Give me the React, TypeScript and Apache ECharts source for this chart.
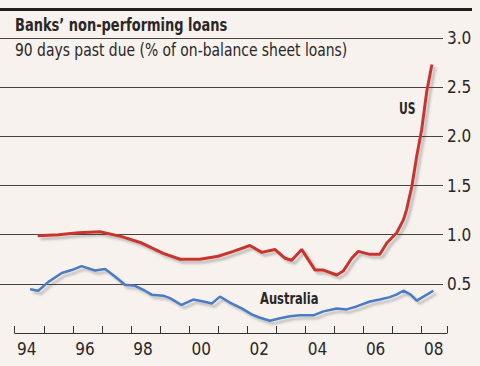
import React, { useEffect, useRef } from "react";
import * as echarts from "echarts";

const yearLabels = ["94", "95", "96", "97", "98", "99", "00", "01", "02", "03", "04", "05", "06", "07", "08"];
const yTicks = [0, 0.5, 1.0, 1.5, 2.0, 2.5, 3.0];

const usYears = [1994.79, 1995.5, 1996.19, 1996.93, 1997.68, 1998.37, 1999.11, 1999.69, 2000.37, 2001.0, 2001.52, 2002.09, 2002.5, 2002.95, 2003.3, 2003.53, 2003.87, 2004.33, 2004.62, 2005.08, 2005.3, 2005.59, 2005.82, 2006.22, 2006.56, 2006.8, 2007.14, 2007.37, 2007.48, 2007.66, 2007.83, 2008.0, 2008.17, 2008.35];
const usValues = [0.99, 1.0, 1.02, 1.03, 0.98, 0.915, 0.81, 0.75, 0.75, 0.78, 0.83, 0.89, 0.82, 0.85, 0.76, 0.74, 0.85, 0.64, 0.64, 0.59, 0.63, 0.76, 0.83, 0.8, 0.8, 0.915, 1.02, 1.15, 1.255, 1.49, 1.8, 2.07, 2.45, 2.73];

const ausYears = [1994.53, 1994.81, 1995.16, 1995.62, 1995.96, 1996.3, 1996.76, 1997.11, 1997.45, 1997.79, 1998.14, 1998.48, 1998.71, 1999.11, 1999.34, 1999.74, 2000.14, 2000.49, 2000.78, 2001.06, 2001.4, 2001.81, 2002.15, 2002.44, 2002.78, 2003.13, 2003.47, 2003.81, 2004.27, 2004.62, 2005.08, 2005.42, 2005.76, 2006.22, 2006.56, 2006.9, 2007.13, 2007.37, 2007.62, 2007.83, 2008.06, 2008.4];
const ausValues = [0.445, 0.43, 0.52, 0.61, 0.64, 0.68, 0.635, 0.65, 0.575, 0.49, 0.48, 0.43, 0.39, 0.38, 0.355, 0.285, 0.34, 0.32, 0.3, 0.37, 0.31, 0.25, 0.19, 0.155, 0.125, 0.15, 0.17, 0.18, 0.18, 0.22, 0.25, 0.24, 0.27, 0.32, 0.34, 0.365, 0.39, 0.43, 0.39, 0.33, 0.37, 0.43];

const FONT = "'Liberation Sans Narrow', 'DejaVu Sans Condensed', sans-serif";
const INK = "#2b2626";
const GRIDC = "#4a4242";
const RED = "#c9362f";
const BLUE = "#4a7cc3";

export default function App() {
  const ref = useRef<HTMLDivElement>(null);
  useEffect(() => {
    if (!ref.current) return;
    const chart = echarts.init(ref.current, null, { renderer: "svg" });
    const shadow = {
      shadowColor: "rgba(60,60,60,0.3)",
      shadowBlur: 2,
      shadowOffsetX: 3,
      shadowOffsetY: 3,
    };
    const txt = (text: string, x: number, y: number, size: number, bold: boolean, sx: number) => ({
      type: "text",
      x,
      y,
      scaleX: sx,
      style: {
        text,
        fontFamily: FONT,
        fontSize: size,
        fontWeight: bold ? "bold" : "normal",
        fill: INK,
        textVerticalAlign: "top",
      },
    });
    chart.setOption({
      animation: false,
      backgroundColor: "#f7f2ee",
      graphic: [
        { type: "rect", shape: { x: 0, y: 8, width: 472, height: 3 }, style: { fill: "#231f1f" } },
        txt("Banks\u2019 non-performing loans", 15, 17, 17, true, 0.85),
        txt("90 days past due (% of on-balance sheet loans)", 15, 41, 18, false, 0.86),
        txt("US", 399, 100, 16, true, 0.75),
        txt("Australia", 260, 290, 16, true, 0.8),
      ],
      grid: [
        { left: 0, right: 37, top: 38, bottom: 33 },
        { left: 14.7, right: 33, top: 38, bottom: 33 },
        { left: 12.2, right: 31.7, top: 38, bottom: 33 },
      ],
      xAxis: [
        { gridIndex: 0, type: "value", min: 0, max: 1, show: false },
        {
          gridIndex: 1,
          type: "value",
          min: 1994,
          max: 2008.87,
          interval: 1,
          axisLine: { show: true, lineStyle: { color: "#333", width: 1 } },
          axisTick: { show: true, inside: true, length: 7, lineStyle: { color: "#333", width: 1 } },
          axisLabel: { show: false },
          splitLine: { show: false },
        },
        {
          gridIndex: 2,
          type: "category",
          data: yearLabels,
          axisLine: { show: false },
          axisTick: { show: false },
          axisLabel: { interval: 1, margin: 7, fontFamily: FONT, fontSize: 17, color: INK },
        },
      ],
      yAxis: [
        {
          gridIndex: 0,
          type: "value",
          position: "right",
          min: yTicks[0],
          max: yTicks[yTicks.length - 1],
          interval: 0.5,
          axisLine: { show: false },
          axisTick: { show: false },
          splitLine: { show: true, showMinLine: false, lineStyle: { color: GRIDC, width: 1 } },
          axisLabel: {
            margin: 4,
            fontFamily: FONT,
            fontSize: 17,
            color: INK,
            formatter: (v: number) => (v === 0 ? "" : v.toFixed(1)),
          },
        },
        { gridIndex: 1, type: "value", min: 0, max: 3, show: false },
        { gridIndex: 2, type: "value", min: 0, max: 3, show: false },
      ],
      series: [
        {
          name: "US",
          type: "line",
          xAxisIndex: 1,
          yAxisIndex: 1,
          symbol: "none",
          data: usYears.map((y, i) => [y, usValues[i]]),
          lineStyle: { color: RED, width: 3, ...shadow },
          z: 4,
        },
        {
          name: "Australia",
          type: "line",
          xAxisIndex: 1,
          yAxisIndex: 1,
          symbol: "none",
          data: ausYears.map((y, i) => [y, ausValues[i]]),
          lineStyle: { color: BLUE, width: 2.5, ...shadow },
          z: 3,
        },
      ],
    });
    return () => chart.dispose();
  }, []);
  return <div ref={ref} style={{ position: "fixed", left: 0, top: 0, width: 480, height: 366 }} />;
}
